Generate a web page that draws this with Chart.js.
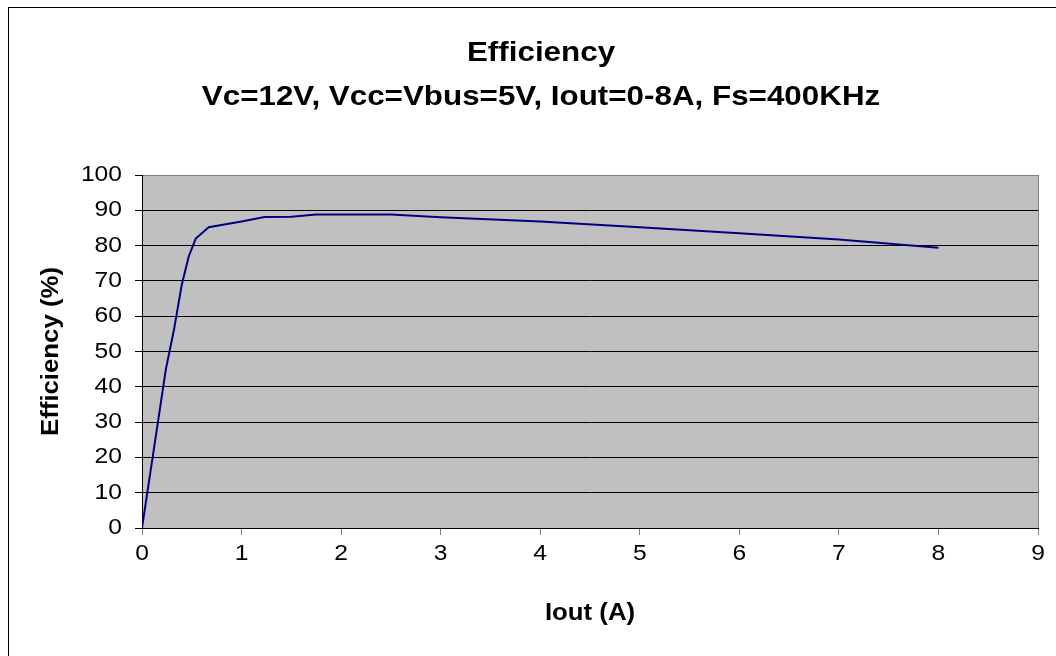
<!DOCTYPE html>
<html>
<head>
<meta charset="utf-8">
<script src="https://cdn.jsdelivr.net/npm/chart.js@4/dist/chart.umd.min.js"></script>
<style>
  html, body { margin: 0; padding: 0; background: #fff; overflow: hidden; width: 1056px; height: 656px; }
  #frame { position: absolute; left: 8px; top: 7px; width: 1064px; height: 650px; border: 1px solid #000; }
  canvas { display: block; }
</style>
</head>
<body>
<div id="frame"><canvas id="c" width="1064" height="650"></canvas></div>
<script>
// ---- data ----
const currents   = [0, 0.24, 0.32, 0.4, 0.47, 0.54, 0.67, 1.0, 1.23, 1.5, 1.75, 2.5, 3, 4, 5, 6, 7, 8];
const efficiency = [0, 45, 56, 69, 77, 82, 85.2, 86.8, 88.1, 88.2, 88.8, 88.8, 88.0, 86.8, 85.2, 83.5, 81.7, 79.4];
const xTickLabels = ['0','1','2','3','4','5','6','7','8','9'];
const yTickLabels = ['0','10','20','30','40','50','60','70','80','90','100'];
const titleLines = ['Efficiency', 'Vc=12V, Vcc=Vbus=5V, Iout=0-8A, Fs=400KHz'];
const xTitle = 'Iout (A)';
const yTitle = 'Efficiency (%)';

// Text in the reference is horizontally widened; widen glyphs along the text direction.
const SX = 1.12;
const proto = CanvasRenderingContext2D.prototype;
const origFill = proto.fillText;
const origMeasure = proto.measureText;
proto.fillText = function (t, x, y) {
  this.save();
  this.translate(x, y);
  this.scale(SX, 1);
  origFill.call(this, t, 0, 0);
  this.restore();
};
proto.measureText = function (t) {
  const m = origMeasure.call(this, t);
  return {
    width: m.width * SX,
    actualBoundingBoxAscent: m.actualBoundingBoxAscent,
    actualBoundingBoxDescent: m.actualBoundingBoxDescent,
    actualBoundingBoxLeft: m.actualBoundingBoxLeft * SX,
    actualBoundingBoxRight: m.actualBoundingBoxRight * SX
  };
};

const FONT = "'Liberation Sans', Arial, sans-serif";

const plotBg = {
  id: 'plotBg',
  beforeDraw(chart) {
    const { ctx, chartArea: a } = chart;
    ctx.save();
    ctx.fillStyle = '#C0C0C0';
    ctx.fillRect(a.left, a.top, a.right - a.left, a.bottom - a.top);
    ctx.strokeStyle = '#808080';
    ctx.lineWidth = 1;
    ctx.strokeRect(Math.round(a.left) + 0.5, Math.round(a.top) + 0.5, Math.round(a.right - a.left), Math.round(a.bottom - a.top));
    ctx.restore();
  }
};

new Chart(document.getElementById('c'), {
  type: 'line',
  data: {
    datasets: [{
      data: currents.map((x, i) => ({ x: x, y: efficiency[i] })),
      borderColor: '#000080',
      borderWidth: 2,
      pointRadius: 0,
      tension: 0,
      fill: false
    }]
  },
  options: {
    responsive: false,
    devicePixelRatio: 1,
    animation: false,
    layout: { padding: 0 },
    plugins: {
      legend: { display: false },
      tooltip: { enabled: false },
      title: {
        display: true,
        text: titleLines,
        color: '#000',
        font: { family: FONT, size: 28, weight: 'bold', lineHeight: 44 / 28 },
        padding: { top: 23, bottom: 56 }
      }
    },
    scales: {
      x: {
        type: 'linear',
        min: 0, max: 9,
        afterFit(s) { s.height = 130; },
        ticks: {
          stepSize: 1,
          color: '#000',
          padding: 6,
          maxRotation: 0,
          font: { family: FONT, size: 22 },
          callback: (v) => xTickLabels[v]
        },
        grid: { drawOnChartArea: false, tickLength: 7, tickColor: '#808080', color: '#808080' },
        border: { color: '#000', width: 1 },
        title: {
          display: true, text: xTitle, color: '#000',
          font: { family: FONT, size: 23, weight: 'bold', lineHeight: 1.2 },
          padding: { top: 0, bottom: 31 }
        }
      },
      y: {
        type: 'linear',
        min: 0, max: 100,
        afterFit(s) { s.width = 133; },
        ticks: {
          stepSize: 10,
          color: '#000',
          padding: 13,
          font: { family: FONT, size: 22 },
          callback: (v) => yTickLabels[v / 10]
        },
        grid: {
          color: (c) => (c.tick && c.tick.value === 100 ? '#808080' : '#000'),
          tickColor: '#000',
          tickLength: 7,
          lineWidth: 1
        },
        border: { color: '#000', width: 1 },
        title: {
          display: true, text: yTitle, color: '#000',
          font: { family: FONT, size: 23, weight: 'bold', lineHeight: 1.2 },
          padding: { top: 29, bottom: 0 }
        }
      },
      yRightSpace: {
        type: 'linear',
        position: 'right',
        display: true,
        afterFit(s) { s.width = 35; },
        ticks: { display: false },
        grid: { display: false, drawTicks: false },
        border: { display: false },
        title: { display: false }
      }
    }
  },
  plugins: [plotBg]
});
</script>
</body>
</html>
